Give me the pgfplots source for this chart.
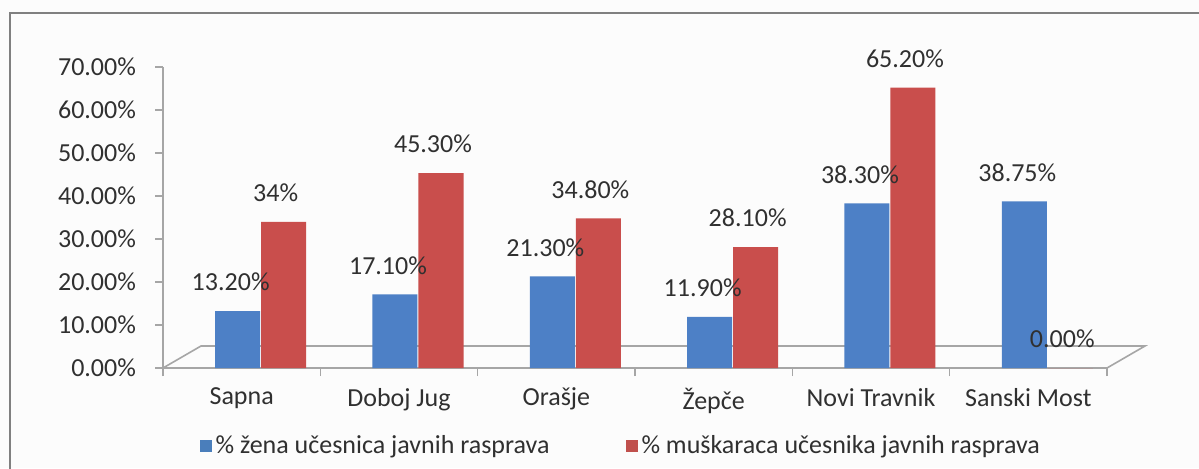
\documentclass[border=0pt]{standalone}
\usepackage{pgfplots}
\pgfplotsset{compat=1.18}
\usepackage{fontspec}
\setmainfont{Carlito}
\definecolor{legblue}{HTML}{4A7EBB}
\definecolor{legred}{HTML}{C0504D}
\definecolor{barblue}{HTML}{4D80C6}
\definecolor{barred}{HTML}{C94E4C}
\definecolor{txt}{HTML}{303030}
\begin{document}
\begin{tikzpicture}
\path[use as bounding box, fill=white!99!black] (0,0) rectangle (599.5pt,234pt);
\draw[gray, line width=1pt] (5pt,-1pt) -- (5pt,227.5pt) -- (600pt,227.5pt);
\begin{axis}[
  at={(81.5pt,50pt)}, anchor=south west,
  scale only axis, width=472pt, height=150.5pt,
  xmin=-0.5, xmax=5.5, ymin=0, ymax=70,
  clip=false,
  axis x line*=bottom, axis y line*=left,
  axis line style={gray!70, line width=0.8pt},
  every tick/.style={gray!70, line width=0.8pt},
  tick align=outside, major tick length=4pt,
  xtick={-0.5,0.5,1.5,2.5,3.5,4.5,5.5},
  x tick label as interval,
  xticklabels={Sapna,Doboj Jug,Orašje,Žepče,Novi Travnik,Sanski Most},
  ytick={0,10,20,30,40,50,60,70},
  yticklabels={0.00\%,10.00\%,20.00\%,30.00\%,40.00\%,50.00\%,60.00\%,70.00\%},
  ticklabel style={font=\fontsize{13}{15}\selectfont, text=txt},
  xticklabel style={yshift=-2.5pt},
  yticklabel style={xshift=-6pt},
  point meta=explicit symbolic,
  nodes near coords,
  nodes near coords style={font=\fontsize{13}{15}\selectfont, text=txt, anchor=south, yshift=6.5pt},
  legend columns=2,
  legend style={draw=none, fill=none, at={(0.486,-0.258)}, anchor=center,
    font=\fontsize{13}{15}\selectfont, text=txt,
    /tikz/every even column/.append style={column sep=36pt}},
  legend image code/.code={\fill[#1] (0pt,-3pt) rectangle (6pt,3pt);},
]
\draw[gray!70, line width=0.8pt] (axis cs:-0.5,0) -- (axis cs:-0.2584,5.12) -- (axis cs:5.7416,5.12) -- (axis cs:5.5,0);
\addplot[ybar, bar width=22.5pt, bar shift=-2pt, draw=none, fill=barblue, forget plot,
  every node near coord/.append style={xshift=-5.5pt}]
  coordinates {(0,13.2) [13.20\%] (1,17.1) [17.10\%] (2,21.3) [21.30\%] (3,11.9) [11.90\%] (4,38.3) [38.30\%] (5,38.75) [38.75\%]};
\addplot[ybar, bar width=22.5pt, bar shift=21pt, draw=none, fill=barred, forget plot,
  every node near coord/.append style={xshift=17pt}]
  coordinates {(0,34) [34\%] (1,45.3) [45.30\%] (2,34.8) [34.80\%] (3,28.1) [28.10\%] (4,65.2) [65.20\%] (5,0) [0.00\%]};
\addlegendimage{fill=legblue, draw=none}
\addlegendentry{\% žena učesnica javnih rasprava}
\addlegendimage{fill=legred, draw=none}
\addlegendentry{\% muškaraca učesnika javnih rasprava}
\end{axis}
\end{tikzpicture}
\end{document}
